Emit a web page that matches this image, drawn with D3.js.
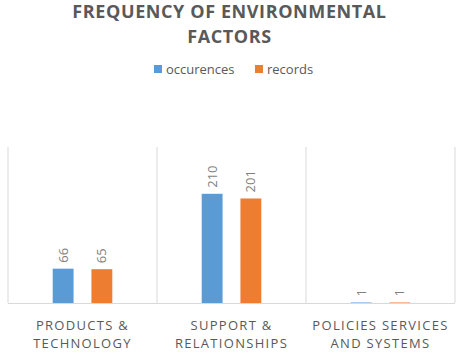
<!DOCTYPE html>
<html><head><meta charset="utf-8">
<script src="https://cdn.jsdelivr.net/npm/d3@7"></script>
<style>body{margin:0;background:#fff}svg{display:block}</style>
</head><body>
<script>
const categories = [["PRODUCTS &","TECHNOLOGY"],["SUPPORT &","RELATIONSHIPS"],["POLICIES SERVICES","AND SYSTEMS"]];
const seriesNames = ["occurences","records"];
const occurences = [66,210,1];
const records = [65,201,1];
const colors = ["#5B9BD5","#ED7D31"];
const W=459,H=356;
const svg=d3.select("body").append("svg").attr("width",W).attr("height",H);
const font="'Open Sans', sans-serif";
const x=d3.scaleBand().domain(d3.range(categories.length)).range([8,455]);
const y=d3.scaleLinear().domain([0,300]).range([303,147]);
const xi=d3.scaleBand().domain(seriesNames).range([0,x.bandwidth()]).paddingInner(0.4615).paddingOuter(1.154);
// grid (category dividers)
const gl=svg.append("g");
d3.range(categories.length+1).forEach(i=>{
  const xx=i<categories.length?x(i):x.range()[1];
  gl.append("line").attr("x1",xx).attr("x2",xx).attr("y1",147).attr("y2",303).attr("stroke","#d9d9d9").attr("stroke-width",1);
});
gl.append("line").attr("x1",8).attr("x2",455).attr("y1",303.5).attr("y2",303.5).attr("stroke","#d9d9d9");
const data=[occurences,records];
seriesNames.forEach((s,si)=>{
  const g=svg.append("g");
  data[si].forEach((v,i)=>{
    const bx=x(i)+xi(s);
    g.append("rect").attr("x",bx).attr("y",y(v)).attr("width",xi.bandwidth()).attr("height",y(0)-y(v)).attr("fill",colors[si]);
    const cx=bx+xi.bandwidth()/2, ty=y(v)-6;
    g.append("text").attr("transform",`translate(${cx+4.5},${ty}) rotate(-90)`).attr("font-family",font).attr("font-size",13).attr("fill","#7f7f7f").text(v);
  });
});
// x labels
categories.forEach((c,i)=>{
  const cx=x(i)+x.bandwidth()/2;
  c.forEach((t,j)=>{
    svg.append("text").attr("x",cx).attr("y",330+j*18).attr("text-anchor","middle").attr("font-family",font).attr("font-size",13).attr("letter-spacing",1.3).attr("fill","#595959").text(t);
  });
});
// title
["FREQUENCY OF ENVIRONMENTAL","FACTORS"].forEach((t,j)=>{
  svg.append("text").attr("x",W/2).attr("y",18+j*25).attr("text-anchor","middle").attr("font-family",font).attr("font-weight","bold").attr("font-size",18).attr("letter-spacing",0.6).attr("fill","#595959").text(t);
});
// legend
const lg=svg.append("g");
const lx=[154,255];
seriesNames.forEach((s,si)=>{
  lg.append("rect").attr("x",lx[si]).attr("y",65).attr("width",8).attr("height",8).attr("fill",colors[si]);
  lg.append("text").attr("x",lx[si]+12).attr("y",74).attr("font-family",font).attr("font-size",13).attr("fill","#595959").text(s);
});
</script>
</body></html>
